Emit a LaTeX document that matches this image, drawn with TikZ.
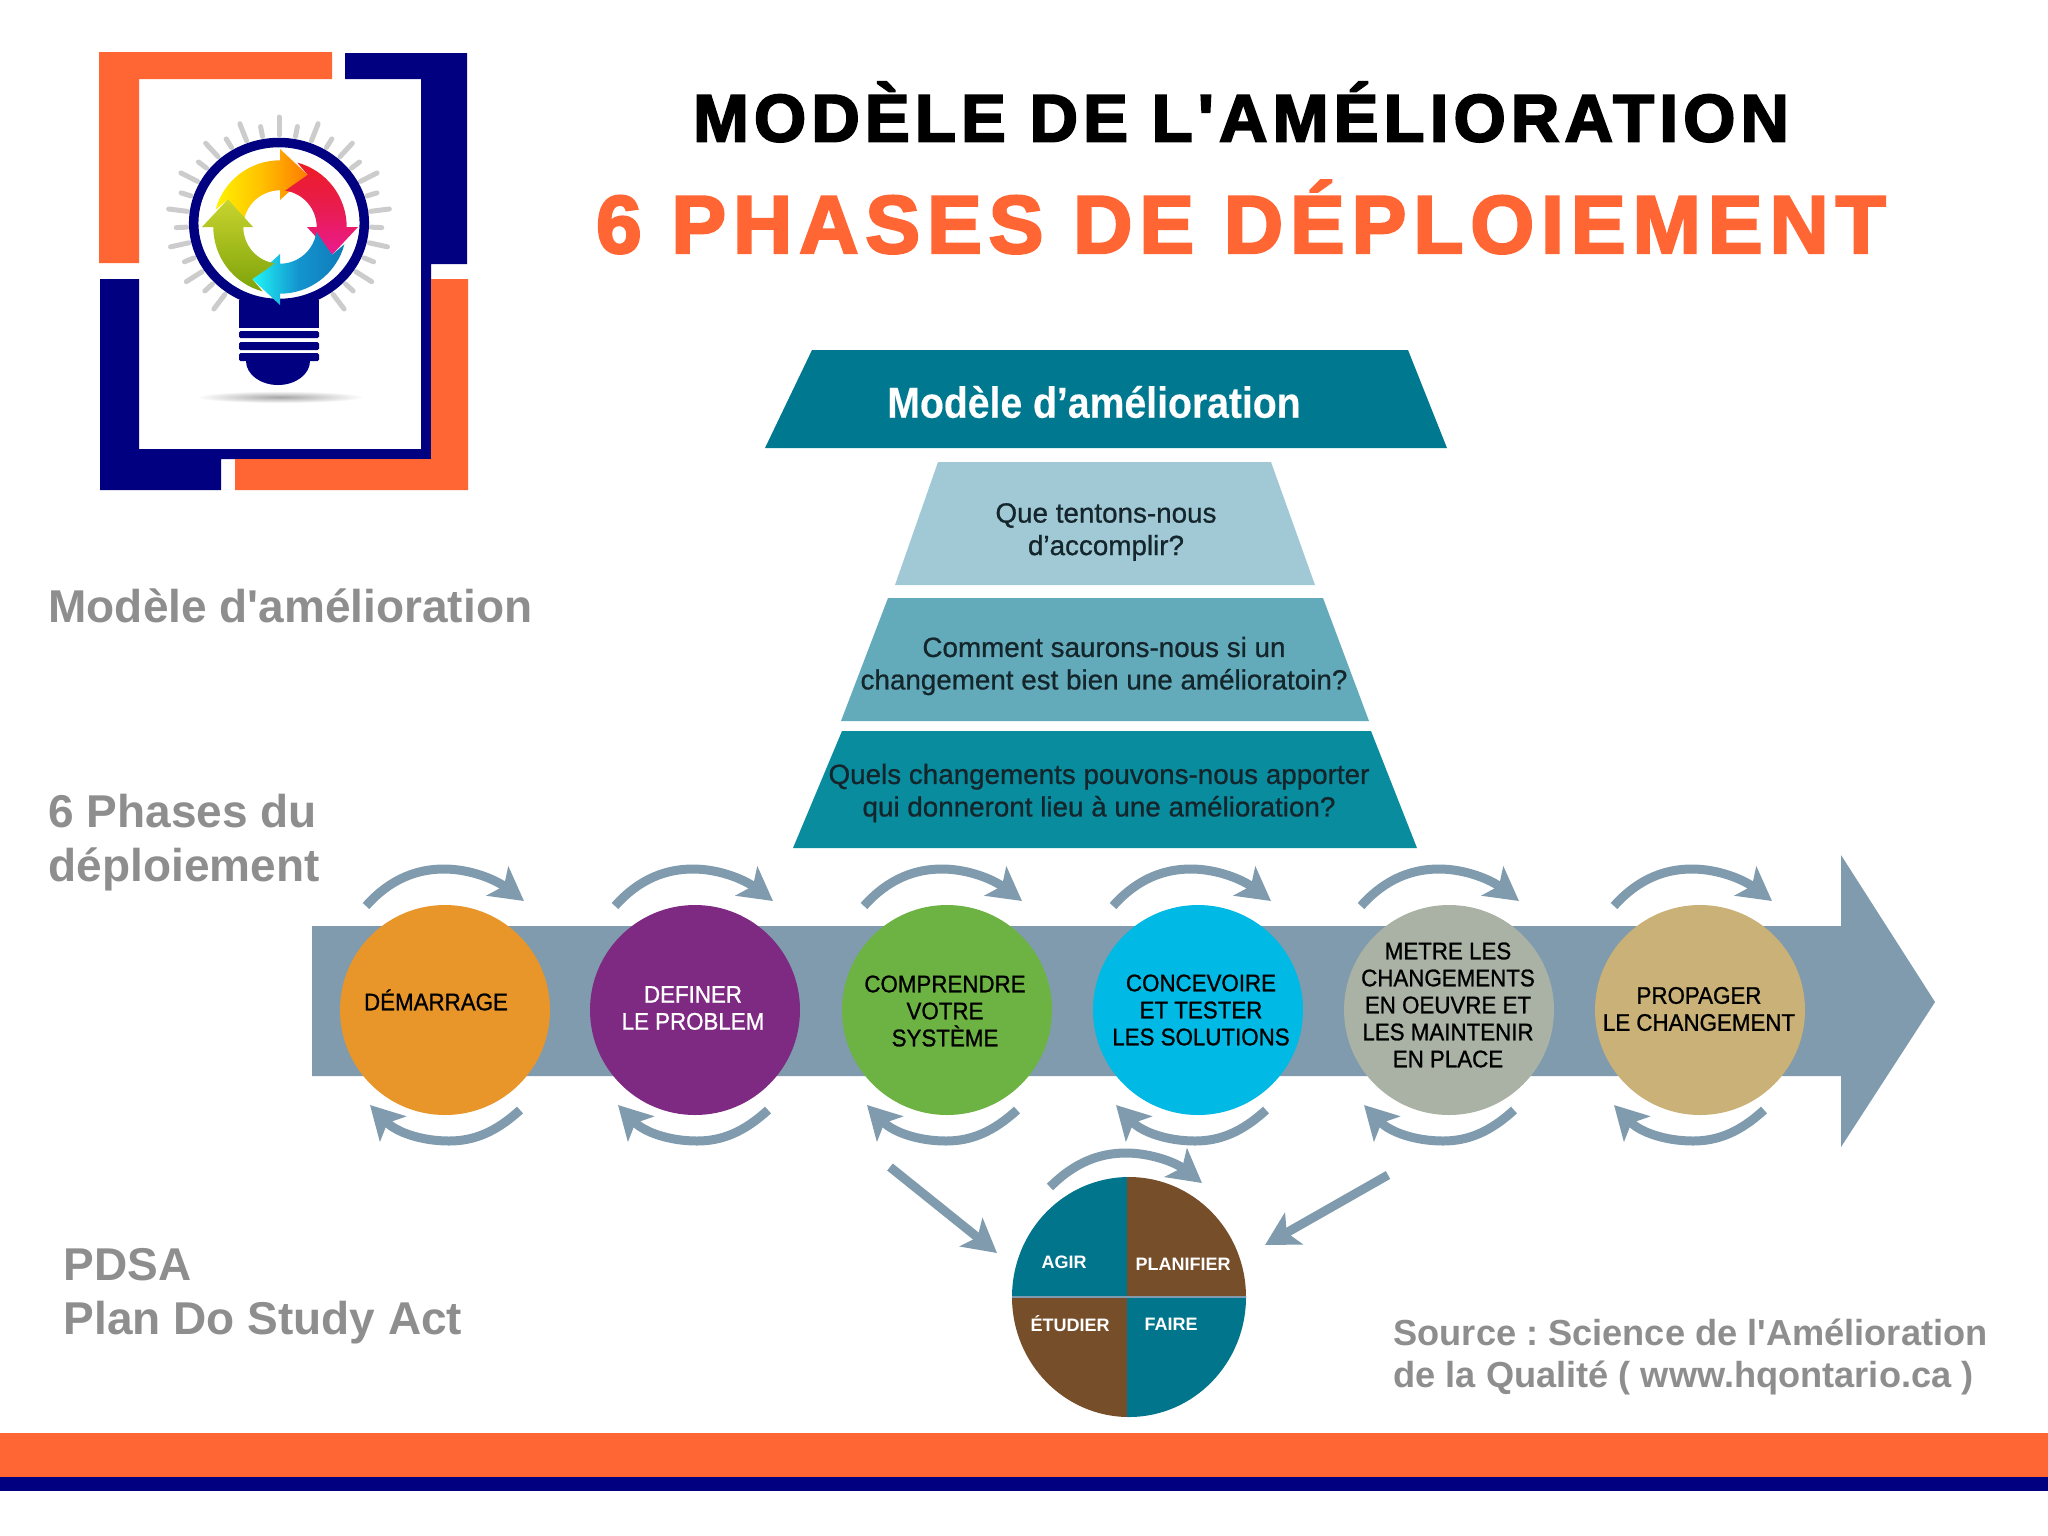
\documentclass[tikz,border=0pt]{standalone}
\usepackage{fontspec}
\setmainfont{Liberation Sans}
\newfontfamily\titlefont[FakeBold=3,LetterSpace=7.8]{Liberation Sans Bold}
\newfontfamily\subtitlefont[FakeBold=3,LetterSpace=8.5]{Liberation Sans Bold}
\newfontfamily\sidefont{Liberation Sans Bold}
\newfontfamily\medsans[FakeBold=1,FakeStretch=0.93]{Liberation Sans}
\newfontfamily\pyrsans[FakeBold=0.8]{Liberation Sans}
\newfontfamily\pyrhead[FakeStretch=0.9,FakeBold=0.3]{Liberation Sans Bold}
\usetikzlibrary{arrows.meta,calc}
\definecolor{hqorange}{HTML}{FF6633}
\definecolor{hqnavy}{HTML}{000080}
\definecolor{slate}{HTML}{7F9BAD}
\definecolor{labelgray}{HTML}{8E8E8E}
\definecolor{teal1}{HTML}{00788F}
\definecolor{teal2}{HTML}{A0C9D5}
\definecolor{teal3}{HTML}{63ABBB}
\definecolor{teal4}{HTML}{0A8C9F}
\definecolor{pbrown}{HTML}{774E2A}
\definecolor{pteal}{HTML}{00758C}
\definecolor{textdark}{HTML}{14262C}
\definecolor{rya}{HTML}{FFF200}\definecolor{ryb}{HTML}{FFC000}\definecolor{ryc}{HTML}{FF7A00}
\definecolor{rra}{HTML}{ED1C24}\definecolor{rrb}{HTML}{E81C50}\definecolor{rrc}{HTML}{EC1A90}
\definecolor{rba}{HTML}{20F5F5}\definecolor{rbb}{HTML}{1394CF}\definecolor{rbc}{HTML}{0F7AB8}
\definecolor{rga}{HTML}{C9D42E}\definecolor{rgb}{HTML}{7DA30A}
\tikzset{
  phase/.style={circle,minimum size=210pt,inner sep=0pt,align=center,font=\medsans\fontsize{24}{27}\selectfont,text=black},
  flow/.style={draw=slate,line width=9pt,-{Stealth[length=33pt,width=36pt,inset=8pt]}},
  sidelabel/.style={anchor=west,align=left,text=labelgray,font=\sidefont\fontsize{46}{54}\selectfont},
  pyrtext/.style={align=center,text=textdark,font=\pyrsans\fontsize{27.8}{32.5}\selectfont},
  quad/.style={text=white,font=\bfseries\fontsize{18}{22}\selectfont},
  ray/.style={draw=black!20,line width=5pt,line cap=round}
}
\newcommand{\looptop}[1]{\begin{scope}[shift={(#1,1010)}]
  \draw[flow] (-80,-104) .. controls (-55,-132) and (-28,-141) .. (-2,-141) .. controls (25,-141) and (50,-130) .. (78,-109);
\end{scope}}
\newcommand{\loopbot}[1]{\begin{scope}[shift={(#1,1010)}]
  \draw[flow] (74,100) .. controls (50,122) and (28,131) .. (3,131) .. controls (-25,131) and (-50,122) .. (-76,95);
\end{scope}}
\newcommand{\ringarrow}[2]{\shade[#2] (#1-75:66.7) arc[start angle=#1-75,end angle=#1,radius=66.7] -- (#1:78) -- (#1+28:59) -- (#1:27) -- (#1:36.7) arc[start angle=#1,end angle=#1-82,radius=36.7] -- (#1-62:59) -- cycle;}
\begin{document}
\begin{tikzpicture}[x=1pt,y=1pt,yscale=-1]
\useasboundingbox (0,0) rectangle (2048,1535);
\fill[white] (0,0) rectangle (2048,1535);
% frame
\fill[hqorange] (99,52) -- (332,52) -- (332,79) -- (139,79) -- (139,263) -- (99,263) -- cycle;
\fill[hqnavy] (345,53) -- (467,53) -- (467,264) -- (431,264) -- (431,459) -- (221,459) -- (221,490) -- (100,490) -- (100,279) -- (139,279) -- (139,449) -- (421,449) -- (421,79) -- (345,79) -- cycle;
\fill[hqorange] (431,279) -- (468,279) -- (468,490) -- (235,490) -- (235,459) -- (431,459) -- cycle;
% bulb
\begin{scope}[shift={(279,223)},xscale=1.05]
  \foreach \i in {-14,-12,...,14} {\draw[ray] (270+\i*10.3:88) -- (270+\i*10.3:106);}
  \foreach \i in {-13,-11,...,13} {\draw[ray] (270+\i*10.3:88) -- (270+\i*10.3:98);}
\end{scope}
\fill[white] (279,223) ellipse[x radius=88,y radius=83];
\fill[hqnavy] (239,300) rectangle (319,328);
\draw[hqnavy,line width=9.5pt] (279,223) ellipse[x radius=85.3,y radius=80.5];
\fill[hqnavy,rounded corners=1.5pt] (239,331) rectangle (319,338);
\fill[hqnavy,rounded corners=1.5pt] (239,342) rectangle (319,350);
\fill[hqnavy,rounded corners=1.5pt] (239,353) rectangle (319,361);
\fill[hqnavy] (246,361) -- (310,361) arc[start angle=0,end angle=180,x radius=32,y radius=24] -- cycle;
\shade[inner color=black!35,outer color=white] (280,397) ellipse[x radius=84,y radius=6];
\begin{scope}[shift={(280,227)}]
  \ringarrow{270}{left color=rya,right color=ryc,middle color=ryb}
  \ringarrow{360}{top color=rra,bottom color=rrc,middle color=rrb}
  \ringarrow{90}{left color=rba,right color=rbc,middle color=rbb}
  \ringarrow{180}{top color=rga,bottom color=rgb}
\end{scope}
% titles
\node[font=\titlefont\fontsize{67}{76}\selectfont,text=black] (title) at (1241,112) {MODÈLE DE L'AMÉLIORATION};
\node[font=\subtitlefont\fontsize{82}{92}\selectfont,text=hqorange] (subtitle) at (1241,217) {6 PHASES DE DÉPLOIEMENT};
% side labels
\node[sidelabel] (lmodel) at (45,606) {Modèle d'amélioration};
\node[sidelabel] (lphases) at (45,843) {6 Phases du\\déploiement};
\node[sidelabel] (lpdsa) at (60,1296) {PDSA\\Plan Do Study Act};
\node[anchor=west,align=left,text=labelgray,font=\sidefont\frenchspacing\fontsize{36.2}{42}\selectfont] (source) at (1390,1357) {Source : Science de l'Amélioration\\de la Qualité ( www.hqontario.ca )};
% pyramid
\fill[teal1] (812,350) -- (1408,350) -- (1447,448) -- (765,448) -- cycle;
\fill[teal2] (938,462) -- (1271,462) -- (1315,585) -- (895,585) -- cycle;
\fill[teal3] (888,598) -- (1323,598) -- (1369,721) -- (841,721) -- cycle;
\fill[teal4] (842,731) -- (1371,731) -- (1417,848) -- (793,848) -- cycle;
\node[text=white,font=\pyrhead\fontsize{43.5}{48}\selectfont] (pyr1) at (1094,402) {Modèle d’amélioration};
\node[pyrtext] (pyr2) at (1106,532) {Que tentons-nous\\d’accomplir?};
\node[pyrtext] (pyr3) at (1104,666) {Comment saurons-nous si un\\changement est bien une amélioratoin?};
\node[pyrtext] (pyr4) at (1099,793) {Quels changements pouvons-nous apporter\\qui donneront lieu à une amélioration?};
% main arrow
\fill[slate] (312,926) -- (1841,926) -- (1841,855) -- (1935,1002) -- (1841,1147) -- (1841,1076) -- (312,1076) -- cycle;
% phases
\node[phase,fill={rgb,255:red,232;green,150;blue,42}] (c1) at (445,1010) {};
\node[phase,fill={rgb,255:red,126;green,42;blue,130}] (c2) at (695,1010) {};
\node[phase,fill={rgb,255:red,109;green,179;blue,68}] (c3) at (947,1010) {};
\node[phase,fill={rgb,255:red,0;green,185;blue,228}] (c4) at (1198,1010) {};
\node[phase,fill={rgb,255:red,169;green,178;blue,165}] (c5) at (1449,1010) {};
\node[phase,fill={rgb,255:red,201;green,177;blue,119}] (c6) at (1700,1010) {};
\node[phase,minimum size=0pt] (t1) at (436,1000) {DÉMARRAGE};
\node[phase,minimum size=0pt,text=white] (t2) at (693,1008) {DEFINER\\LE PROBLEM};
\node[phase,minimum size=0pt] (t3) at (945,1011) {COMPRENDRE\\VOTRE\\SYSTÈME};
\node[phase,minimum size=0pt] (t4) at (1201,1010) {CONCEVOIRE\\ET TESTER\\LES SOLUTIONS};
\node[phase,minimum size=0pt] (t5) at (1448,1005) {METRE LES\\CHANGEMENTS\\EN OEUVRE ET\\LES MAINTENIR\\EN PLACE};
\node[phase,minimum size=0pt] (t6) at (1699,1009) {PROPAGER\\LE CHANGEMENT};
\looptop{446}\looptop{695}\looptop{944}\looptop{1193}\looptop{1441}\looptop{1694}
\loopbot{446}\loopbot{694}\loopbot{943}\loopbot{1192}\loopbot{1440}\loopbot{1690}
% PDSA wheel
\begin{scope}
  \clip (1129,1297) ellipse[x radius=117,y radius=120];
  \fill[pteal] (1000,1170) rectangle (1127,1297);
  \fill[pbrown] (1127,1170) rectangle (1260,1297);
  \fill[pbrown] (1000,1297) rectangle (1127,1420);
  \fill[pteal] (1127,1297) rectangle (1260,1420);
  \draw[slate,line width=1.5pt] (1000,1297) -- (1260,1297);
\end{scope}
\node[quad] (agir) at (1064,1262) {AGIR};
\node[quad] (plan) at (1183,1264) {PLANIFIER};
\node[quad] (etud) at (1070,1324) {ÉTUDIER};
\node[quad] (faire) at (1171,1324) {FAIRE};
\draw[flow] (1050,1187) .. controls (1075,1162) and (1100,1153) .. (1126,1153) .. controls (1150,1153) and (1175,1162) .. (1202,1183);
\coordinate (fromleft) at (890,1167);
\coordinate (toleft) at (997,1253);
\coordinate (fromright) at (1388,1175);
\coordinate (toright) at (1265,1245);
\draw[flow] (fromleft) -- (toleft);
\draw[flow] (fromright) -- (toright);
% bottom bands
\fill[hqorange] (0,1433) rectangle (2048,1477);
\fill[hqnavy] (0,1477) rectangle (2048,1491);
\end{tikzpicture}
\end{document}
